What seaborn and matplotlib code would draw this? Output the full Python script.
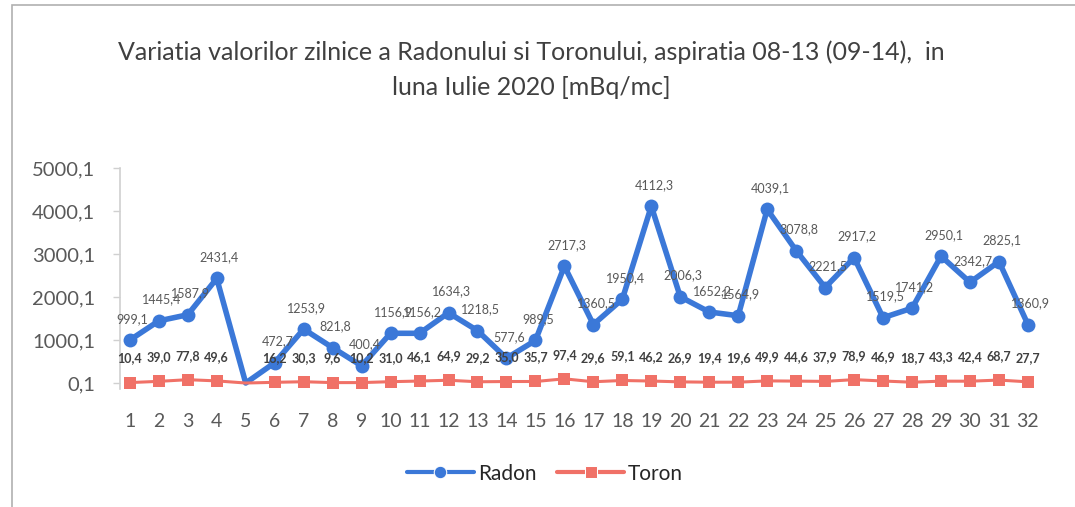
import matplotlib
matplotlib.use("Agg")
import matplotlib.pyplot as plt
import seaborn as sns
import pandas as pd
import numpy as np

days = list(range(1, 33))
radon = [999.1, 1445.4, 1587.9, 2431.4, 0.1, 472.7, 1253.9, 821.8, 400.4, 1156.9,
         1156.2, 1634.3, 1218.5, 577.6, 989.5, 2717.3, 1360.5, 1950.4, 4112.3, 2006.3,
         1652.2, 1564.9, 4039.1, 3078.8, 2221.5, 2917.2, 1519.5, 1741.2, 2950.1, 2342.7,
         2825.1, 1360.9]
toron = [10.4, 39.0, 77.8, 49.6, 0.1, 16.2, 30.3, 9.6, 10.2, 31.0,
         46.1, 64.9, 29.2, 35.0, 35.7, 97.4, 29.6, 59.1, 46.2, 26.9,
         19.4, 19.6, 49.9, 44.6, 37.9, 78.9, 46.9, 18.7, 43.3, 42.4,
         68.7, 27.7]
missing_day = 5
yticks = [0.1, 1000.1, 2000.1, 3000.1, 4000.1, 5000.1]
ytick_labels = ["0,1", "1000,1", "2000,1", "3000,1", "4000,1", "5000,1"]
title = "Variatia valorilor zilnice a Radonului si Toronului, aspiratia 08-13 (09-14),  in\nluna Iulie 2020 [mBq/mc]"

def fmt(v):
    return f"{v:.1f}".replace(".", ",")

df = pd.DataFrame({
    "Ziua": days * 2,
    "Valoare": radon + toron,
    "Serie": ["Radon"] * len(days) + ["Toron"] * len(days),
})

sns.set_theme(style="white")
plt.rcParams['font.family'] = ['Lato', 'DejaVu Sans']

fig = plt.figure(figsize=(10.75, 5.07), dpi=100)
ax = fig.add_axes([0.1116, 0.2318, 0.967 - 0.1116, 0.6686 - 0.2318])

blue = "#3B78D8"
red = "#F07167"
sns.lineplot(data=df, x="Ziua", y="Valoare", hue="Serie", style="Serie",
             markers={"Radon": "o", "Toron": "s"}, dashes=False,
             palette={"Radon": blue, "Toron": red}, ax=ax, legend=True)

keep = [i for i, d in enumerate(days) if d != missing_day]
for ln, lw, ms in zip(ax.lines[:2], [4.0, 2.2], [10, 9]):
    ln.set_linewidth(lw)
    ln.set_markersize(ms)
    ln.set_markevery(keep)
    ln.set_markeredgewidth(0)

for d, r, t in zip(days, radon, toron):
    if d == missing_day:
        continue
    ax.annotate(fmt(r), (d, r), xytext=(2, 11), textcoords="offset points",
                ha="center", va="bottom", fontsize=9, color="#595959")
    ax.annotate(fmt(t), (d, t), xytext=(0, 13), textcoords="offset points",
                ha="center", va="bottom", fontsize=9, color="#404040",
                fontweight="bold")

ax.set_xlim(0.66, 32.4)
ax.set_ylim(-150, 5000.1)
ax.set_xticks(days)
ax.set_xticklabels([str(d) for d in days])
ax.set_yticks(yticks)
ax.set_yticklabels(ytick_labels)
ax.tick_params(axis="x", labelsize=14, colors="#595959", length=0, pad=17)
ax.tick_params(axis="y", labelsize=14.5, colors="#595959", length=5, width=1,
               direction="out", pad=13, left=True)
ax.tick_params(axis="y", color="#d0d0d0")
ax.set_xlabel("")
ax.set_ylabel("")
for s in ["top", "right", "bottom"]:
    ax.spines[s].set_visible(False)
ax.spines["left"].set_color("#d0d0d0")
ax.spines["left"].set_linewidth(1.2)

handles, labels = ax.get_legend_handles_labels()
leg = ax.legend(handles, labels, loc="center", bbox_to_anchor=(0.507, 0.066),
                bbox_transform=fig.transFigure, ncol=2, frameon=False,
                fontsize=15, handlelength=3.2, columnspacing=1.0, handletextpad=0.2)
for h in leg.legend_handles:
    h.set_linewidth(3)
    h.set_markersize(9)
for t in leg.get_texts():
    t.set_color("#262626")

fig.text(0.494, 0.862, title, ha="center", va="center", fontsize=18,
         color="#404040", linespacing=1.65)

fig.patches.append(plt.Rectangle((0.011, -0.01), 1.2, 1.0, transform=fig.transFigure,
                                 fill=False, edgecolor="#b0b0b0", linewidth=1.2))

fig.savefig("out.png", dpi=100)
